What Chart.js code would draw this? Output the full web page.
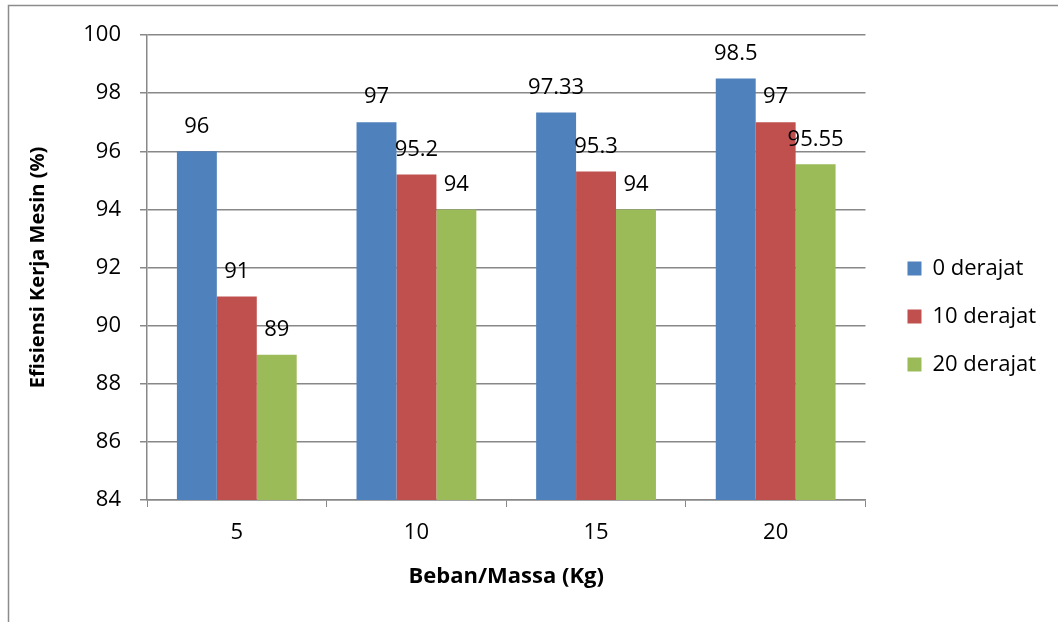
<!DOCTYPE html>
<html>
<head>
<meta charset="utf-8">
<script src="https://cdn.jsdelivr.net/npm/chart.js@4/dist/chart.umd.min.js"></script>
<style>
  html, body { margin: 0; padding: 0; background: #fff; }
  #wrap { width: 1058px; height: 622px; position: relative; }
</style>
</head>
<body>
<div id="wrap"><canvas id="grafik"></canvas></div>
<script>
// Data efisiensi kerja mesin
const kategori = ['5', '10', '15', '20'];
const derajat0 = [96, 97, 97.33, 98.5];
const derajat10 = [91, 95.2, 95.3, 97];
const derajat20 = [89, 94, 94, 95.55];
const namaSeri = ['0 derajat', '10 derajat', '20 derajat'];
const warnaSeri = ['#4f81bd', '#c0504d', '#9bbb59'];

const FONT = "'Open Sans', 'Liberation Sans', sans-serif";
const abu = '#888888';

// bingkai luar ala Excel
const bingkai = {
    id: 'bingkai',
    beforeDraw(chart) {
        const ctx = chart.ctx;
        ctx.save();
        ctx.fillStyle = '#fff';
        ctx.fillRect(0, 0, chart.width, chart.height);
        ctx.strokeStyle = '#8c8c8c';
        ctx.lineWidth = 1.5;
        ctx.strokeRect(8.5, 5.5, chart.width + 20, chart.height + 20);
        ctx.restore();
    }
};

// label nilai di atas batang
const labelNilai = {
    id: 'labelNilai',
    afterDatasetsDraw(chart) {
        const ctx = chart.ctx;
        ctx.save();
        ctx.font = '22px ' + FONT;
        ctx.fillStyle = '#000';
        ctx.textAlign = 'center';
        ctx.textBaseline = 'middle';
        chart.data.datasets.forEach((ds, i) => {
            chart.getDatasetMeta(i).data.forEach((bar, j) => {
                ctx.fillText(String(ds.data[j]), bar.x, bar.y - 25);
            });
        });
        ctx.restore();
    }
};

new Chart(document.getElementById('grafik'), {
    type: 'bar',
    data: {
        labels: kategori,
        datasets: [derajat0, derajat10, derajat20].map((d, i) => ({
            label: namaSeri[i],
            data: d,
            backgroundColor: warnaSeri[i],
            borderWidth: 0,
            categoryPercentage: 0.667,
            barPercentage: 1
        }))
    },
    options: {
        responsive: true,
        maintainAspectRatio: false,
        animation: false,
        layout: { padding: { left: 20, top: 35, right: 12, bottom: 24 } },
        plugins: {
            tooltip: { enabled: false },
            legend: {
                position: 'right',
                labels: {
                    boxWidth: 14,
                    boxHeight: 14,
                    padding: 26,
                    color: '#000',
                    font: { family: FONT, size: 22 }
                }
            }
        },
        scales: {
            x: {
                afterFit: (s) => { s.height = 98; },
                grid: { drawOnChartArea: false, drawTicks: true, tickLength: 7, color: abu, offset: true },
                border: { color: abu, width: 1.5 },
                ticks: { color: '#000', font: { family: FONT, size: 22 }, padding: 13 },
                title: { display: true, text: 'Beban/Massa (Kg)', color: '#000', font: { family: FONT, size: 22, weight: 'bold' }, padding: { top: 4, bottom: 8 } }
            },
            y: {
                min: 84,
                max: 100,
                afterFit: (s) => { s.width = 127; },
                ticks: { stepSize: 2, color: '#000', font: { family: FONT, size: 22 }, padding: 19 },
                grid: { color: abu, lineWidth: 1.5, tickLength: 7 },
                border: { color: abu, width: 1.5 },
                title: { display: true, text: 'Efisiensi Kerja Mesin (%)', color: '#000', font: { family: FONT, size: 20, weight: 'bold' }, padding: { top: 6, bottom: 4 } }
            },
            // jarak kosong antara area plot dan legenda
            jarak: {
                position: 'right',
                display: true,
                afterFit: (s) => { s.width = 16; },
                grid: { display: false },
                border: { display: false },
                ticks: { display: false }
            }
        }
    },
    plugins: [bingkai, labelNilai]
});
</script>
</body>
</html>
